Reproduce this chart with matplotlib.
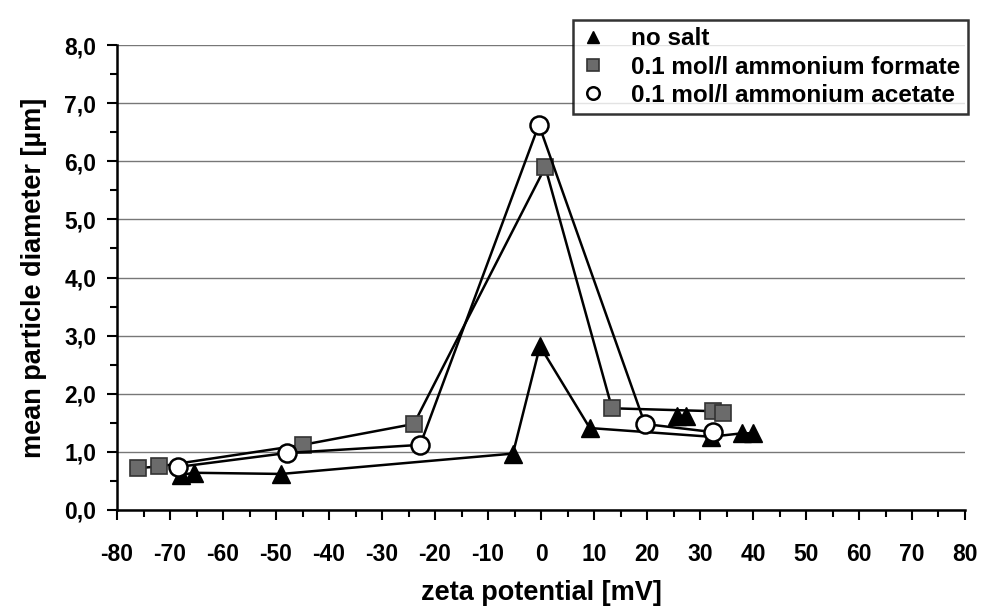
import numpy as np
import matplotlib.pyplot as plt
from matplotlib.ticker import MultipleLocator, FuncFormatter

plt.rcParams['font.family'] = ['Liberation Sans', 'DejaVu Sans']
plt.rcParams['font.weight'] = 'bold'

# no salt (triangles), NaN breaks the line
nosalt_x = [-68, -65.5, -49, -5.3, -0.2, 9.2, 32, 38, 40, np.nan, 25.7, 27.4]
nosalt_y = [0.60, 0.64, 0.62, 0.97, 2.82, 1.41, 1.26, 1.32, 1.32, np.nan, 1.62, 1.62]

# 0.1 mol/l ammonium formate (squares)
formate_x = [-76, -72, -45, -24, 0.8, 13.4, 32.5, 34.3]
formate_y = [0.72, 0.75, 1.12, 1.48, 5.9, 1.75, 1.70, 1.67]

# 0.1 mol/l ammonium acetate (circles)
acetate_x = [-68.5, -48, -22.8, -0.4, 19.6, 32.4]
acetate_y = [0.74, 0.98, 1.12, 6.63, 1.48, 1.34]

fig = plt.figure(figsize=(9.86, 6.1), dpi=100)
ax = fig.add_axes([0.1187, 0.164, 0.86, 0.762])

ax.plot(nosalt_x, nosalt_y, color='black', lw=1.8, marker='^', ms=13,
        mfc='black', mec='black', label='no salt', zorder=3)
ax.plot(formate_x, formate_y, color='black', lw=1.8, marker='s', ms=12,
        mfc='#6b6b6b', mec='#333333', mew=1.2,
        label='0.1 mol/l ammonium formate', zorder=3)
ax.plot(acetate_x, acetate_y, color='black', lw=1.8, marker='o', ms=13,
        mfc='white', mec='black', mew=1.8,
        label='0.1 mol/l ammonium acetate', zorder=4)

ax.set_xlim(-80, 80)
ax.set_ylim(0, 8)
ax.xaxis.set_major_locator(MultipleLocator(10))
ax.xaxis.set_minor_locator(MultipleLocator(5))
ax.yaxis.set_major_locator(MultipleLocator(1))
ax.yaxis.set_minor_locator(MultipleLocator(0.5))
ax.yaxis.set_major_formatter(FuncFormatter(lambda v, p: f'{v:.1f}'.replace('.', ',')))
ax.xaxis.set_major_formatter(FuncFormatter(lambda v, p: f'{v:.0f}'))

ax.grid(axis='y', which='major', color='#777777', lw=1.0)
ax.set_axisbelow(True)
for s in ['top', 'right']:
    ax.spines[s].set_visible(False)
for s in ['left', 'bottom']:
    ax.spines[s].set_linewidth(1.8)

ax.tick_params(axis='both', which='major', direction='out', length=7, width=1.5,
               labelsize=16.5)
ax.tick_params(axis='both', which='minor', direction='out', length=5, width=1.5)
ax.tick_params(axis='x', which='major', pad=17)
ax.tick_params(axis='y', which='major', pad=8)
for lab in ax.get_xticklabels() + ax.get_yticklabels():
    lab.set_fontweight('bold')

ax.set_xlabel('zeta potential [mV]', fontsize=19.5, fontweight='bold', labelpad=10)
ax.set_ylabel('mean particle diameter [µm]', fontsize=19.5, fontweight='bold', labelpad=12)

leg = ax.legend(loc='upper right', bbox_to_anchor=(968 / 986, 1 - 20 / 610),
                bbox_transform=fig.transFigure, frameon=True, fancybox=False,
                handlelength=1.0, handletextpad=1.1, borderpad=0.3,
                labelspacing=0.22, borderaxespad=0,
                prop={'weight': 'bold', 'size': 17.5})
for h in leg.legend_handles:
    h.set_linestyle('none')
    h.set_markersize(9)
leg.get_frame().set_edgecolor('black')
leg.get_frame().set_linewidth(1.8)
leg.set_zorder(5)

fig.savefig('out.png', dpi=100)
